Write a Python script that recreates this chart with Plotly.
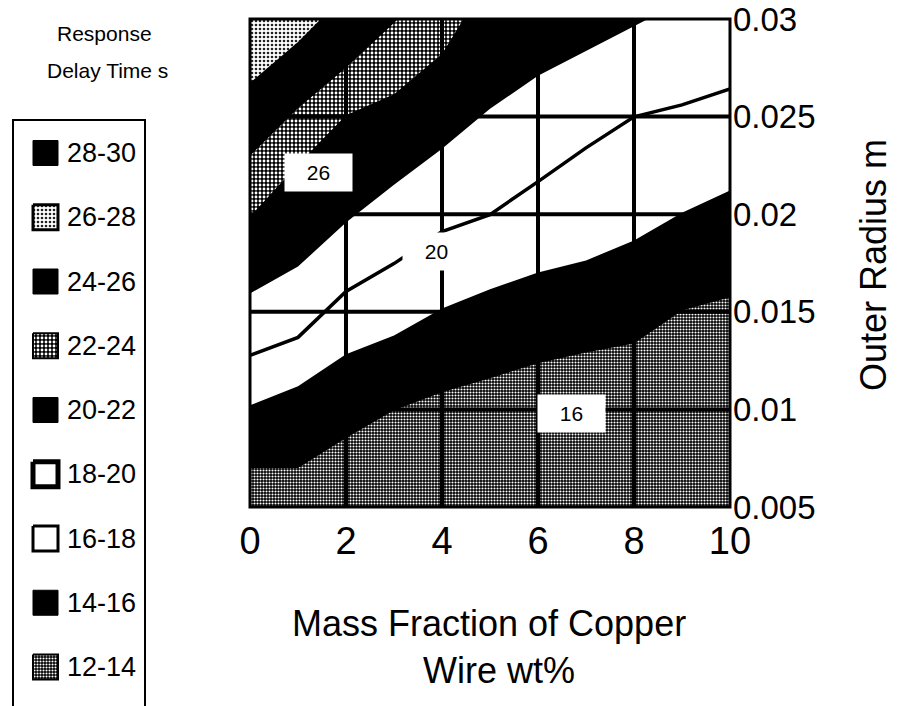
import plotly.graph_objects as go

# ---------------- data ----------------
# boundary curves (Outer Radius, m) of the response-delay-time bands vs copper wt%
x_grid = [0, 1, 2, 3, 4, 5, 6, 7, 8, 9, 10]
level_14 = [0.0070, 0.0070, 0.00853, 0.00996, 0.01088, 0.0116, 0.01236, 0.01292, 0.01338, 0.01507, 0.01574]
level_16 = [0.01021, 0.01119, 0.01282, 0.01379, 0.01517, 0.01615, 0.01701, 0.01763, 0.01865, 0.02008, 0.02121]
level_18 = [0.01277, 0.01369, 0.01604, 0.01747, 0.01911, 0.01998, 0.02167, 0.0234, 0.02499, 0.0256, 0.02642]
level_20 = [0.01594, 0.01732, 0.01957, 0.02151, 0.02335, 0.0254, 0.02709, 0.02836, 0.02964, 0.0309, 0.0321]
x_22 = [0, 1, 2, 3, 4, 5]
level_22 = [0.01988, 0.02254, 0.02507, 0.02614, 0.02821, 0.0322]
x_24 = [0, 1, 2, 3, 4]
level_24 = [0.0230, 0.02543, 0.0275, 0.0298, 0.0322]
x_26 = [0, 1, 2]
level_26 = [0.02673, 0.02882, 0.0313]

# contour labels
label_text = ["26", "20", "16"]
label_x = [1.43, 3.875, 6.70]
label_y = [0.02215, 0.01809, 0.00978]

# legend
legend_labels = ["28-30", "26-28", "24-26", "22-24", "20-22", "18-20", "16-18", "14-16", "12-14"]

x_ticks = [0, 2, 4, 6, 8, 10]
y_ticks = [0.005, 0.01, 0.015, 0.02, 0.025, 0.03]
y_ticktext = ["0.005", "0.01", "0.015", "0.02", "0.025", "0.03"]

x_range = [0, 10]
y_range = [0.005, 0.03]

# ---------------- styles ----------------
W, H = 901, 706
PL, PR, PT, PB = 250, 730, 19, 507  # plot area in px
FONT = "Liberation Sans, Arial, sans-serif"

pat_light = dict(shape=".", bgcolor="white", fgcolor="#222222", size=4, solidity=0.35, fillmode="replace")
pat_mid = dict(shape=".", bgcolor="black", fgcolor="white", size=4, solidity=0.4, fillmode="replace")
pat_dark = dict(shape=".", bgcolor="black", fgcolor="white", size=3, solidity=0.4, fillmode="replace")

band_style = {
    "28-30": ("black", None, 1),
    "26-28": ("white", pat_light, 3),
    "24-26": ("black", None, 1),
    "22-24": ("#808080", pat_mid, 2),
    "20-22": ("black", None, 1),
    "18-20": ("white", None, 5),
    "16-18": ("white", None, 3),
    "14-16": ("black", None, 1),
    "12-14": ("#707070", pat_dark, 2),
}

fig = go.Figure()

top_close = y_range[1] + 0.01
bot_close = y_range[0] - 0.01

# 26-28 band (above level 26)
fig.add_trace(go.Scatter(
    x=x_26 + [x_26[-1], x_26[0]], y=level_26 + [top_close, top_close],
    fill="toself", mode="lines", line=dict(width=0), fillcolor="white",
    fillpattern=pat_light, hoverinfo="skip", showlegend=False))

# 22-24 band
fig.add_trace(go.Scatter(
    x=x_24 + x_22[::-1], y=level_24 + level_22[::-1],
    fill="toself", mode="lines", line=dict(width=0), fillcolor="#808080",
    fillpattern=pat_mid, hoverinfo="skip", showlegend=False))

# 16-20 bands (white)
fig.add_trace(go.Scatter(
    x=x_grid + x_grid[::-1], y=level_16 + level_20[::-1],
    fill="toself", mode="lines", line=dict(width=0), fillcolor="white",
    hoverinfo="skip", showlegend=False))

# 12-14 band (below level 14)
fig.add_trace(go.Scatter(
    x=x_grid + [x_grid[-1], x_grid[0]], y=level_14 + [bot_close, bot_close],
    fill="toself", mode="lines", line=dict(width=0), fillcolor="#707070",
    fillpattern=pat_dark, hoverinfo="skip", showlegend=False))

# level 18 contour line
fig.add_trace(go.Scatter(
    x=x_grid, y=level_18, mode="lines", line=dict(color="black", width=3.5),
    hoverinfo="skip", showlegend=False))

shapes = []
# black background of the plot area (the black bands)
shapes.append(dict(type="rect", xref="x domain", yref="y domain", x0=0, x1=1, y0=0, y1=1,
                   fillcolor="black", line=dict(width=0), layer="below"))
# grid lines on top
for xv in x_ticks[1:-1]:
    shapes.append(dict(type="line", xref="x", yref="y domain", x0=xv, x1=xv, y0=0, y1=1,
                       line=dict(color="black", width=4), layer="above"))
for yv in y_ticks[1:-1]:
    shapes.append(dict(type="line", xref="x domain", yref="y", x0=0, x1=1, y0=yv, y1=yv,
                       line=dict(color="black", width=4), layer="above"))
shapes.append(dict(type="rect", xref="x domain", yref="y domain", x0=0, x1=1, y0=0, y1=1,
                   line=dict(color="black", width=3), layer="above"))

annotations = []
for t, lx, ly in zip(label_text, label_x, label_y):
    annotations.append(dict(x=lx, y=ly, xref="x", yref="y", text=t, showarrow=False,
                            xanchor="center", yanchor="middle",
                            font=dict(family=FONT, size=21, color="black"),
                            bgcolor="white", width=61, height=31, borderpad=3))

def px(xp):
    return xp / W

def py(yp):
    return 1 - yp / H

def text_at(xp, yp, text, size, **kw):
    d = dict(x=px(xp), y=py(yp), xref="paper", yref="paper", text=text, showarrow=False,
             xanchor="center", yanchor="middle", font=dict(family=FONT, size=size, color="black"))
    d.update(kw)
    return d

# axis titles
annotations.append(text_at(489, 623, "Mass Fraction of Copper", 36))
annotations.append(text_at(499, 670, "Wire wt%", 36))
annotations.append(text_at(873, 265, "Outer Radius m", 36, textangle=-90))

# legend header
annotations.append(text_at(104, 34, "Response", 21))
annotations.append(text_at(107, 71, "Delay Time s", 21))

# legend box (pixel axes x2/y2)
shapes.append(dict(type="rect", xref="x2", yref="y2", x0=13, x1=145, y0=120, y1=720,
                   line=dict(color="black", width=2), fillcolor="rgba(0,0,0,0)"))

row_y0, row_dy = 153, 64.25
sw_x0, sw_x1, sw_h = 33, 58, 25
for i, lab in enumerate(legend_labels):
    cy = row_y0 + i * row_dy
    color, pat, lw = band_style[lab]
    kw = dict(fillpattern=pat) if pat else {}
    fig.add_trace(go.Scatter(
        x=[sw_x0, sw_x1, sw_x1, sw_x0, sw_x0],
        y=[cy - sw_h / 2, cy - sw_h / 2, cy + sw_h / 2, cy + sw_h / 2, cy - sw_h / 2],
        xaxis="x2", yaxis="y2", fill="toself", mode="lines", fillcolor=color,
        line=dict(color="black", width=lw), hoverinfo="skip", showlegend=False, **kw))
    annotations.append(dict(x=65, y=cy, xref="x2", yref="y2", text=lab, xanchor="left",
                            yanchor="middle", showarrow=False,
                            font=dict(family=FONT, size=27, color="black")))

eps = 1e-9
fig.update_layout(
    width=W, height=H,
    margin=dict(l=0, r=0, t=0, b=0, autoexpand=False),
    paper_bgcolor="white", plot_bgcolor="white",
    showlegend=False,
    xaxis=dict(domain=[PL / W, PR / W], range=x_range, tickvals=x_ticks,
               ticktext=[str(v) for v in x_ticks], showgrid=False, zeroline=False,
               showline=False, ticks="", ticklabelstandoff=8, automargin=False,
               ticklabeloverflow="allow",
               tickfont=dict(family=FONT, size=38, color="black"), fixedrange=True),
    yaxis=dict(domain=[1 - PB / H, 1 - PT / H], range=[y_range[0] - eps, y_range[1] + eps],
               tickvals=y_ticks, ticktext=y_ticktext, side="right", showgrid=False, zeroline=False,
               showline=False, ticks="", ticklabelstandoff=2, automargin=False,
               ticklabeloverflow="allow",
               tickfont=dict(family=FONT, size=33, color="black"), fixedrange=True),
    xaxis2=dict(domain=[0, 180 / W], range=[0, 180], visible=False, fixedrange=True,
                automargin=False),
    yaxis2=dict(domain=[0, 1], range=[H, 0], visible=False, fixedrange=True, anchor="x2",
                automargin=False),
    shapes=shapes,
    annotations=annotations,
)

fig.write_html("out.html")
